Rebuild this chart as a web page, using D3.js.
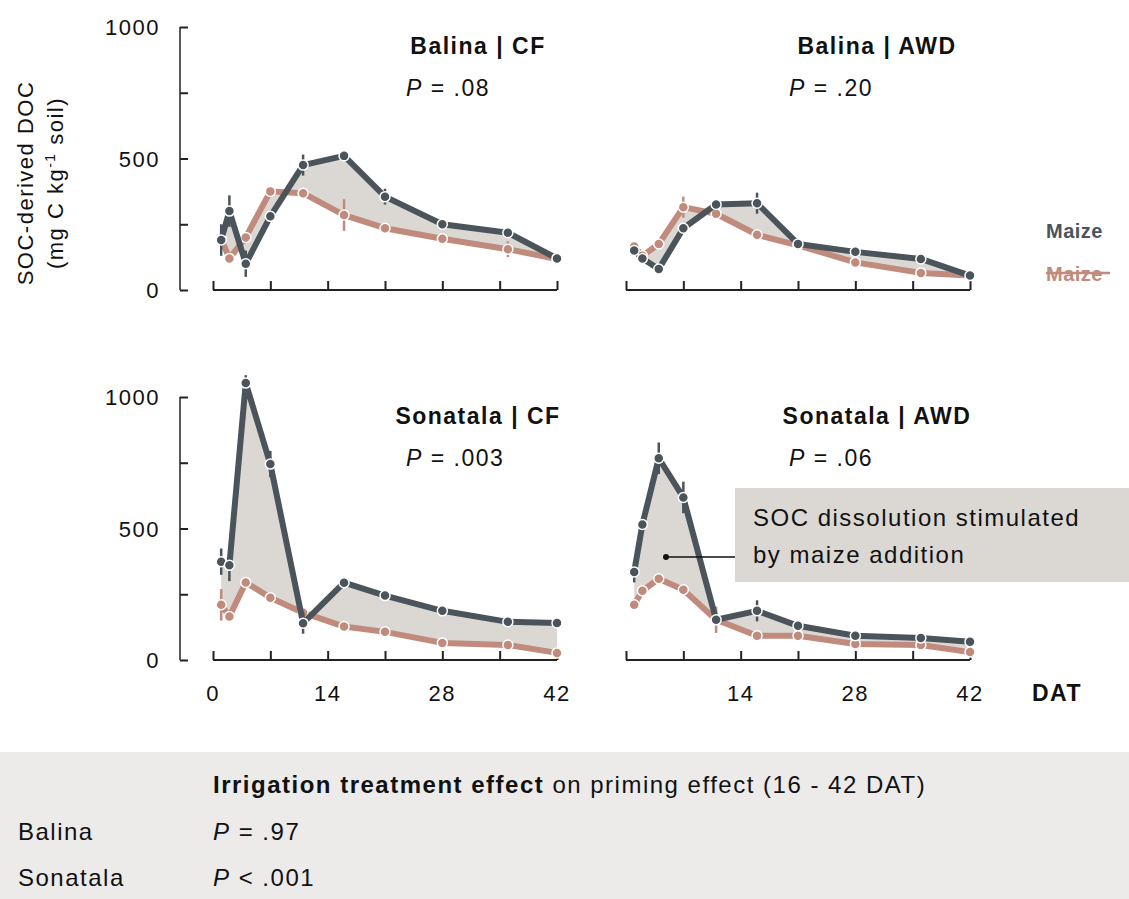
<!DOCTYPE html>
<html><head><meta charset="utf-8">
<script src="https://cdn.jsdelivr.net/npm/d3@7"></script>
<style>body{margin:0;background:#fff}text{font-family:"Liberation Sans",Arial,sans-serif;letter-spacing:1.5px}</style>
</head><body><div id="app"></div>
<script>
const days = [1, 2, 4, 7, 11, 16, 21, 28, 36, 42];
const panels = [
  { site: "Balina", trt: "CF", p: ".08", row: 0, col: 0 },
  { site: "Balina", trt: "AWD", p: ".20", row: 0, col: 1 },
  { site: "Sonatala", trt: "CF", p: ".003", row: 1, col: 0 },
  { site: "Sonatala", trt: "AWD", p: ".06", row: 1, col: 1 }
];
const maize = [
  [190, 300, 100, 280, 475, 510, 355, 250, 218, 120],
  [150, 120, 80, 235, 325, 330, 175, 145, 118, 55],
  [374, 360, 1053, 745, 140, 294, 245, 187, 145, 141],
  [335, 515, 767, 618, 153, 187, 130, 92, 84, 69]
];
const control = [
  [195, 120, 200, 375, 368, 285, 235, 195, 155, 118],
  [165, 130, 175, 315, 290, 210, 170, 105, 65, 55],
  [210, 165, 295, 237, 180, 127, 107, 65, 57, 27],
  [210, 263, 309, 267, 153, 92, 92, 61, 57, 30]
];
const maizeErr = [
  [60, 60, 50, 20, 40, 10, 30, 20, 10, 10],
  [20, 20, 10, 20, 10, 40, 10, 10, 15, 10],
  [50, 60, 30, 50, 40, 20, 20, 10, 10, 10],
  [40, 30, 60, 60, 20, 40, 20, 15, 15, 20]
];
const controlErr = [
  [40, 10, 10, 10, 10, 60, 10, 10, 30, 20],
  [10, 10, 10, 40, 10, 10, 10, 10, 10, 10],
  [60, 10, 10, 10, 10, 10, 10, 10, 10, 10],
  [10, 10, 20, 10, 50, 10, 10, 10, 10, 10]
];
const yTicks = [0, 250, 500, 750, 1000];
const xTickLabels = [[0, 14, 28, 42], [14, 28, 42]];

const dark = "#4b545b", red = "#c08a7c", fillCol = "#dbd8d4";
const svg = d3.select("#app").append("svg").attr("width", 1129).attr("height", 899);

const colX = [213, 626], rowY0 = [290, 660];
const x = c => d3.scaleLinear().domain([0, 42]).range([colX[c], colX[c] + 344]);
const y = r => d3.scaleLinear().domain([0, 1000]).range([rowY0[r], rowY0[r] - 263]);

// footer
svg.append("rect").attr("x", 0).attr("y", 752).attr("width", 1129).attr("height", 147).attr("fill", "#ecebea");

panels.forEach((p, i) => {
  const xs = x(p.col), ys = y(p.row);
  const g = svg.append("g");
  const pts = days.map((d, j) => ({ d, m: maize[i][j], c: control[i][j], me: maizeErr[i][j], ce: controlErr[i][j] }));

  g.append("path").datum(pts)
    .attr("d", d3.area().x(d => xs(d.d)).y0(d => ys(d.c)).y1(d => ys(d.m)))
    .attr("fill", fillCol);

  // x axis
  const xa = g.append("g").attr("transform", `translate(0,${ys(0)})`)
    .call(d3.axisTop(xs).tickValues(d3.range(0, 43, 7)).tickSize(9).tickFormat(""));
  xa.select(".domain").attr("stroke", "#222").attr("stroke-width", 2).attr("d", `M${xs(0)},0H${xs(42)}`);
  xa.selectAll(".tick line").attr("stroke", "#222").attr("stroke-width", 2).attr("y2", -9);
  if (p.row === 1) {
    xTickLabels[p.col].forEach(t => g.append("text").attr("x", xs(t)).attr("y", ys(0) + 41)
      .attr("text-anchor", "middle").attr("font-size", 22).attr("fill", "#111").text(t));
  }

  if (p.col === 0) {
    const ya = g.append("g").attr("transform", "translate(180,0)")
      .call(d3.axisRight(ys).tickValues(yTicks).tickSize(8).tickFormat(""));
    ya.select(".domain").attr("stroke", "#222").attr("stroke-width", 1.5).attr("d", `M0,${ys(0)}V${ys(1000)}`);
    ya.selectAll(".tick line").attr("stroke", "#222").attr("stroke-width", 2);
    [0, 500, 1000].forEach(t => g.append("text").attr("x", 160).attr("y", ys(t) + 8)
      .attr("text-anchor", "end").attr("font-size", 22).attr("fill", "#111").text(t));
  }

  [["c", "ce", red], ["m", "me", dark]].forEach(([k, e, col]) => {
    g.append("path").datum(pts).attr("d", d3.line().x(d => xs(d.d)).y(d => ys(d[k])))
      .attr("fill", "none").attr("stroke", col).attr("stroke-width", 6).attr("stroke-linejoin", "round");
    g.selectAll(null).data(pts).join("line")
      .attr("x1", d => xs(d.d)).attr("x2", d => xs(d.d))
      .attr("y1", d => ys(d[k] - d[e])).attr("y2", d => ys(d[k] + d[e]))
      .attr("stroke", col).attr("stroke-width", 2.5);
    g.selectAll(null).data(pts).join("circle")
      .attr("cx", d => xs(d.d)).attr("cy", d => ys(d[k])).attr("r", 5)
      .attr("fill", col).attr("stroke", "#fff").attr("stroke-width", 1.5);
  });

  const cx = xs(0) + (p.col === 0 ? 265 : 251);
  const ty = ys(1000) + 27;
  g.append("text").attr("x", cx).attr("y", ty).attr("text-anchor", "middle")
    .attr("font-size", 23).attr("font-weight", "bold").attr("fill", "#111").text(`${p.site} | ${p.trt}`);
  const pt = g.append("text").attr("x", xs(0) + (p.col === 0 ? 193 : 163)).attr("y", ty + 42)
    .attr("font-size", 23).attr("fill", "#111");
  pt.append("tspan").attr("font-style", "italic").text("P");
  pt.append("tspan").text(` = ${p.p}`);
});

// annotation
svg.append("rect").attr("x", 735).attr("y", 488).attr("width", 394).attr("height", 94).attr("fill", fillCol);
svg.append("line").attr("x1", 666).attr("y1", 557).attr("x2", 735).attr("y2", 557).attr("stroke", "#111").attr("stroke-width", 1.5);
svg.append("circle").attr("cx", 666).attr("cy", 557).attr("r", 3).attr("fill", "#111");
["SOC dissolution stimulated", "by maize addition"].forEach((t, i) =>
  svg.append("text").attr("x", 753).attr("y", 526 + i * 37).attr("font-size", 24).attr("fill", "#111").text(t));

// legend
svg.append("text").attr("x", 1103).attr("y", 238).attr("text-anchor", "end").attr("font-size", 20)
  .attr("font-weight", "bold").attr("fill", dark).style("letter-spacing", "0.5px").text("Maize");
svg.append("text").attr("x", 1103).attr("y", 281).attr("text-anchor", "end").attr("font-size", 20)
  .attr("font-weight", "bold").attr("fill", red).style("letter-spacing", "0.5px").text("Maize");
svg.append("line").attr("x1", 1046).attr("x2", 1110).attr("y1", 273).attr("y2", 273).attr("stroke", red).attr("stroke-width", 2.5);

svg.append("text").attr("x", 1082).attr("y", 701).attr("text-anchor", "end").attr("font-size", 23)
  .attr("font-weight", "bold").attr("fill", "#111").text("DAT");

// y title
[["SOC-derived DOC", 33], ["(mg C kg", 63]].forEach(([t, xx], i) => {
  const tx = svg.append("text").attr("transform", `translate(${xx},183) rotate(-90)`)
    .attr("text-anchor", "middle").attr("font-size", 22).attr("fill", "#111");
  if (i === 0) tx.text(t);
  else { tx.append("tspan").text(t); tx.append("tspan").attr("font-size", 14).attr("dy", -8).text("-1");
    tx.append("tspan").attr("dy", 8).text(" soil)"); }
});

// footer text
const f1 = svg.append("text").attr("x", 213).attr("y", 793).attr("font-size", 24).attr("fill", "#111");
f1.append("tspan").attr("font-weight", "bold").text("Irrigation treatment effect");
f1.append("tspan").text(" on priming effect  (16 - 42 DAT)");
[["Balina", "= .97"], ["Sonatala", "< .001"]].forEach(([s, v], i) => {
  svg.append("text").attr("x", 18).attr("y", 840 + i * 46).attr("font-size", 24).attr("fill", "#111").text(s);
  const t = svg.append("text").attr("x", 213).attr("y", 840 + i * 46).attr("font-size", 24).attr("fill", "#111");
  t.append("tspan").attr("font-style", "italic").text("P");
  t.append("tspan").text(" " + v);
});
</script></body></html>
